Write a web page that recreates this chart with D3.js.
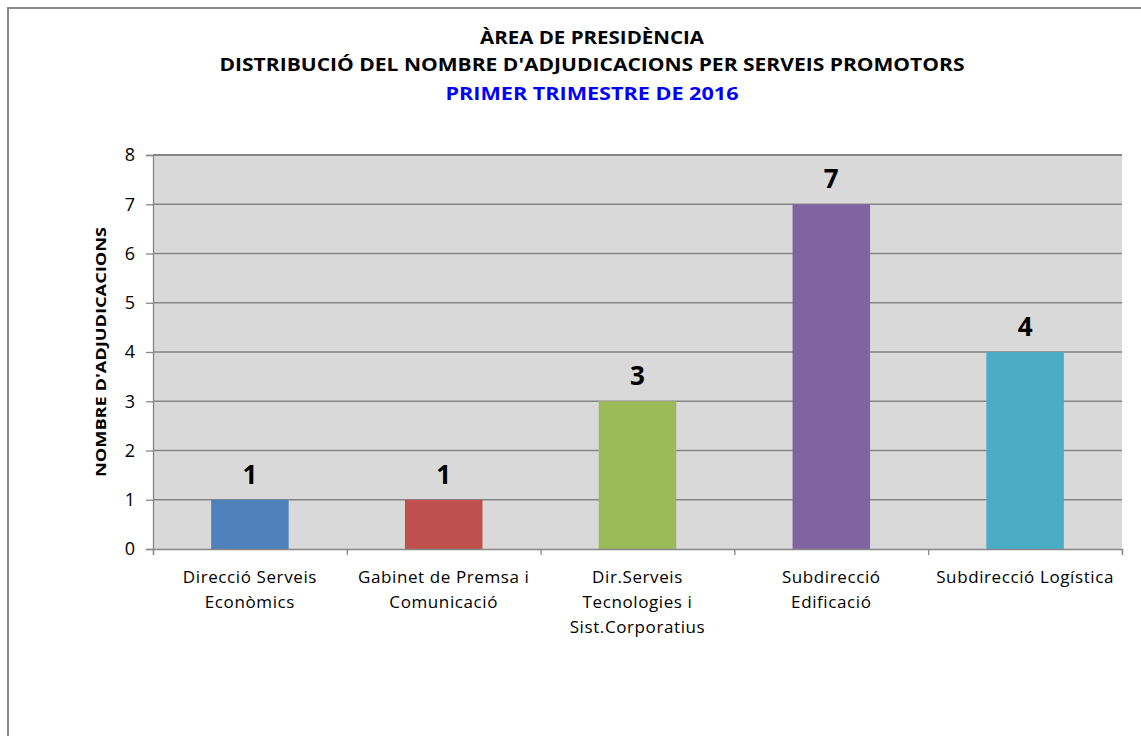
<!DOCTYPE html>
<html>
<head>
<meta charset="utf-8">
<script src="https://cdn.jsdelivr.net/npm/d3@7"></script>
<style>
  body { margin: 0; background: #fff; }
  text { font-family: "Open Sans", "Noto Sans", sans-serif; }
</style>
</head>
<body>
<div id="chart"></div>
<script>
// chart data
var categories = [
    ["Direcció Serveis", "Econòmics"],
    ["Gabinet de Premsa i", "Comunicació"],
    ["Dir.Serveis", "Tecnologies i", "Sist.Corporatius"],
    ["Subdirecció", "Edificació"],
    ["Subdirecció Logística"]
];
var values = [1, 1, 3, 7, 4];
var barColors = ["#4f81bd", "#c0504d", "#9bbb59", "#8064a2", "#4bacc6"];
var yTicks = [0, 1, 2, 3, 4, 5, 6, 7, 8];
var titleLines = ["ÀREA DE PRESIDÈNCIA", "DISTRIBUCIÓ DEL NOMBRE D'ADJUDICACIONS PER SERVEIS PROMOTORS"];
var subtitle = "PRIMER TRIMESTRE DE 2016";
var yTitle = "NOMBRE D'ADJUDICACIONS";

var W = 1141, H = 736;
var margin = { top: 155, right: 19, bottom: 187, left: 153 },
    width = W - margin.left - margin.right,
    height = H - margin.top - margin.bottom;

var root = d3.select("#chart").append("svg")
    .attr("width", W)
    .attr("height", H);

// outer frame
root.append("rect")
    .attr("x", 8).attr("y", 8)
    .attr("width", W + 20).attr("height", H + 20)
    .attr("fill", "#fff")
    .attr("stroke", "#898989")
    .attr("stroke-width", 2);

// titles
root.append("text")
    .attr("x", 592).attr("y", 44)
    .attr("text-anchor", "middle")
    .attr("font-size", 17).attr("font-weight", "bold")
    .attr("textLength", 224).attr("lengthAdjust", "spacingAndGlyphs")
    .text(titleLines[0]);
root.append("text")
    .attr("x", 592).attr("y", 71)
    .attr("text-anchor", "middle")
    .attr("font-size", 17).attr("font-weight", "bold")
    .attr("textLength", 745).attr("lengthAdjust", "spacingAndGlyphs")
    .text(titleLines[1]);
root.append("text")
    .attr("x", 592).attr("y", 100)
    .attr("text-anchor", "middle")
    .attr("font-size", 17).attr("font-weight", "bold")
    .attr("fill", "#0000ff")
    .attr("textLength", 293).attr("lengthAdjust", "spacingAndGlyphs")
    .text(subtitle);

var svg = root.append("g")
    .attr("transform", "translate(" + margin.left + "," + margin.top + ")");

var x = d3.scaleBand()
    .domain(d3.range(values.length))
    .range([0, width])
    .paddingInner(0.6)
    .paddingOuter(0.3);

var xb = d3.scaleLinear()
    .domain([0, values.length])
    .range([0, width]);

var y = d3.scaleLinear()
    .domain([0, 8])
    .range([height, 0]);

// plot background
svg.append("rect")
    .attr("width", width).attr("height", height)
    .attr("fill", "#d9d9d9");

// grid lines
svg.append("g")
    .selectAll("line")
    .data(yTicks.filter(function (d) { return d > 0; }))
    .enter().append("line")
    .attr("x1", 0).attr("x2", width)
    .attr("y1", function (d) { return y(d); })
    .attr("y2", function (d) { return y(d); })
    .attr("stroke", "#868686")
    .attr("stroke-width", function (d) { return d === 8 ? 2 : 1.3; });

// bars
svg.append("g")
    .selectAll("rect")
    .data(values)
    .enter().append("rect")
    .attr("x", function (d, i) { return x(i); })
    .attr("y", function (d) { return y(d); })
    .attr("width", x.bandwidth())
    .attr("height", function (d) { return height - y(d); })
    .attr("fill", function (d, i) { return barColors[i]; });

// value labels
svg.append("g")
    .selectAll("text")
    .data(values)
    .enter().append("text")
    .attr("x", function (d, i) { return x(i) + x.bandwidth() / 2; })
    .attr("y", function (d) { return y(d) - 16; })
    .attr("text-anchor", "middle")
    .attr("font-size", 26).attr("font-weight", "bold")
    .text(function (d) { return d; });

// y axis
var yAxis = svg.append("g")
    .call(d3.axisLeft(y).tickValues(yTicks).tickSize(7).tickPadding(11).tickFormat(d3.format("d")));
yAxis.select(".domain").attr("stroke", "#868686").attr("stroke-width", 1.3);
yAxis.selectAll(".tick line").attr("stroke", "#868686").attr("stroke-width", 1.3);
yAxis.selectAll(".tick text")
    .attr("font-size", 18).attr("fill", "#000")
    .style("font-family", "'Open Sans', sans-serif");

// x axis with ticks between categories
var xAxis = svg.append("g")
    .attr("transform", "translate(0," + height + ")")
    .call(d3.axisBottom(xb).tickValues(d3.range(values.length + 1)).tickSize(6).tickFormat(""));
xAxis.select(".domain").attr("stroke", "#868686").attr("stroke-width", 1.3);
xAxis.selectAll(".tick line").attr("stroke", "#868686").attr("stroke-width", 1.3);

// category labels
var catLabels = svg.append("g")
    .selectAll("text")
    .data(categories)
    .enter().append("text")
    .attr("transform", function (d, i) {
        return "translate(" + (x(i) + x.bandwidth() / 2) + "," + (height + 34) + ")";
    })
    .attr("text-anchor", "middle")
    .attr("font-size", 17)
    .attr("letter-spacing", 0.6);
catLabels.selectAll("tspan")
    .data(function (d) { return d; })
    .enter().append("tspan")
    .attr("x", 0)
    .attr("y", function (d, i) { return i * 25; })
    .text(function (d) { return d; });

// y axis title
svg.append("text")
    .attr("transform", "translate(-47," + (height / 2) + ") rotate(-90)")
    .attr("text-anchor", "middle")
    .attr("font-size", 15).attr("font-weight", "bold")
    .attr("textLength", 250).attr("lengthAdjust", "spacingAndGlyphs")
    .text(yTitle);
</script>
</body>
</html>
